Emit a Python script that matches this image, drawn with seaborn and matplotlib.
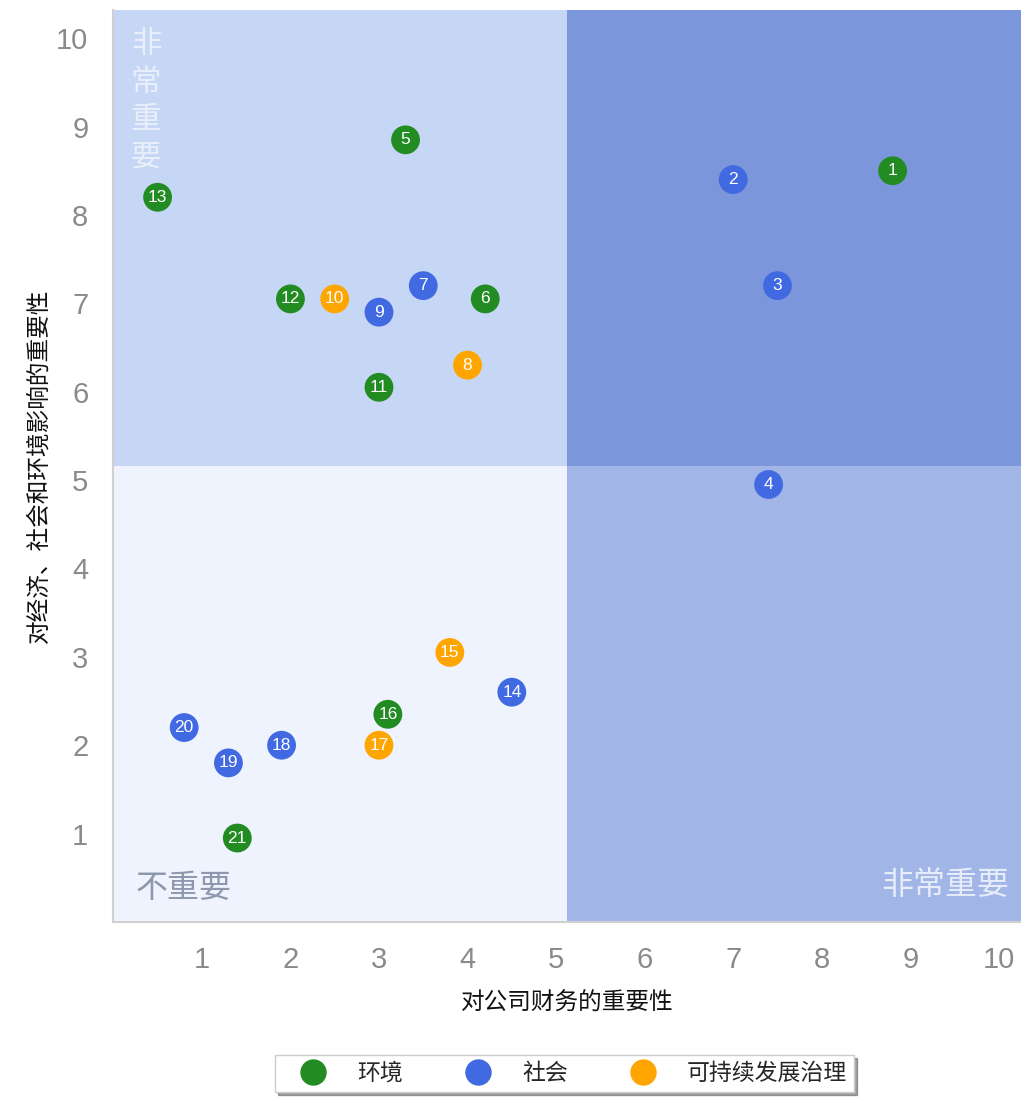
import pandas as pd
import matplotlib
matplotlib.use("Agg")
import matplotlib.pyplot as plt
import seaborn as sns
from matplotlib.lines import Line2D

# dados
ids = list(range(1, 22))
fin = [8.8, 7.0, 7.5, 7.4, 3.3, 4.2, 3.5, 4.0, 3.0, 2.5, 3.0,
       2.0, 0.5, 4.5, 3.8, 3.1, 3.0, 1.9, 1.3, 0.8, 1.4]
imp = [8.5, 8.4, 7.2, 4.95, 8.85, 7.05, 7.2, 6.3, 6.9, 7.05, 6.05,
       7.05, 8.2, 2.6, 3.05, 2.35, 2.0, 2.0, 1.8, 2.2, 0.95]
cat = ["环境", "社会", "社会", "社会", "环境", "环境", "社会", "可持续发展治理", "社会",
       "可持续发展治理", "环境", "环境", "环境", "社会", "可持续发展治理", "环境",
       "可持续发展治理", "社会", "社会", "社会", "环境"]
categorias = ["环境", "社会", "可持续发展治理"]
cores = {"环境": "#228B22", "社会": "#4169E1", "可持续发展治理": "#FFA500"}

sns.set_theme(style="white")
plt.rcParams['font.family'] = ['Noto Sans CJK SC', 'DejaVu Sans']

df = pd.DataFrame({"id": ids, "fin": fin, "imp": imp, "cat": cat})

fig = plt.figure(figsize=(10.21, 11.01), dpi=100)
ax = fig.add_axes([0.111, 0.1626, 0.889, 0.8284])

xmax, ymax = 10.25, 10.32
xm, ym = xmax / 2, ymax / 2
ax.set_xlim(0, xmax)
ax.set_ylim(0, ymax)

# quadrantes
ax.axhspan(ym, ymax, xmin=0, xmax=0.5, color="#c6d6f5", lw=0, zorder=0)
ax.axhspan(ym, ymax, xmin=0.5, xmax=1, color="#7c96db", lw=0, zorder=0)
ax.axhspan(0, ym, xmin=0, xmax=0.5, color="#eef3fd", lw=0, zorder=0)
ax.axhspan(0, ym, xmin=0.5, xmax=1, color="#a1b5e7", lw=0, zorder=0)

sns.scatterplot(data=df, x="fin", y="imp", hue="cat", palette=cores,
                hue_order=categorias, s=430, edgecolor="none", legend=False,
                ax=ax, zorder=3)
for _, r in df.iterrows():
    ax.text(r["fin"], r["imp"], str(r["id"]), color="white", fontsize=12.5,
            ha="center", va="center", zorder=4,
            family=['Liberation Sans', 'DejaVu Sans'])

# textos dos quadrantes
ax.text(0.25, 0.38, "不重要", fontsize=23, color="#8d97ad", ha="left", va="center")
ax.text(10.12, 0.42, "非常重要", fontsize=23, color="#e6ecfa", ha="right", va="center")
ax.text(0.37, 10.1, "非\n常\n重\n要", fontsize=22, color="#eef2fb", ha="center",
        va="top", linespacing=1.27, alpha=0.9)

ax.set_xticks(range(1, 11))
ax.set_yticks(range(1, 11))
ax.tick_params(axis="x", labelsize=21, labelcolor="#8a8a8a", length=0, pad=17)
ax.tick_params(axis="y", labelsize=21, labelcolor="#8a8a8a", length=0, pad=18)
for lab in ax.get_xticklabels() + ax.get_yticklabels():
    lab.set_fontfamily(['Liberation Sans', 'DejaVu Sans'])

ax.set_xlabel("对公司财务的重要性", fontsize=17, color="#111111", labelpad=13)
ax.set_ylabel("对经济、社会和环境影响的重要性", fontsize=17, color="#111111", labelpad=4)

for s in ["top", "right"]:
    ax.spines[s].set_visible(False)
for s in ["left", "bottom"]:
    ax.spines[s].set_color("#d0d0d0")
    ax.spines[s].set_linewidth(1.5)

handles = [Line2D([], [], marker="o", ls="", markersize=19, markerfacecolor=cores[c],
                  markeredgecolor="none", label=c) for c in categorias]
leg = ax.legend(handles=handles, loc="center", bbox_to_anchor=(0.497, -0.166), ncol=3,
                frameon=True, shadow=True, fancybox=False, fontsize=16.5,
                columnspacing=1.9, handletextpad=0.55, borderpad=0.3, handlelength=2.75)
leg.get_frame().set_edgecolor("#cccccc")

plt.savefig("out.png", dpi=100)
plt.close()
